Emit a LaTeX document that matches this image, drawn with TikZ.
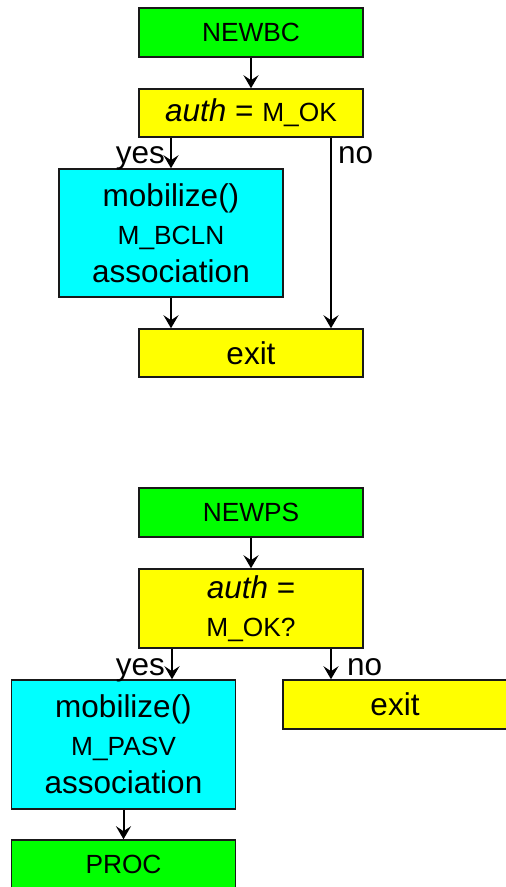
\documentclass[tikz,border=0pt]{standalone}
\usepackage{fontspec}
\setmainfont{Liberation Sans}
\usetikzlibrary{arrows.meta}
\definecolor{startgreen}{RGB}{0,255,0}
\definecolor{testyellow}{RGB}{255,255,0}
\definecolor{actcyan}{RGB}{0,255,255}
\newcommand{\bigtxt}{\fontsize{31.5}{38}\selectfont}
\newcommand{\smtxt}{\fontsize{26.3}{38}\selectfont}
\tikzstyle{arrow} = [line width=2pt,-{Stealth[length=13pt,width=15pt,inset=5pt]}]
\tikzstyle{box} = [draw=black!90,line width=1.5pt,minimum width=224pt,inner sep=0pt,align=center,font=\bigtxt]
\tikzstyle{startbox} = [box,fill=startgreen,minimum height=49pt]
\tikzstyle{testbox} = [box,fill=testyellow,minimum height=48pt]
\tikzstyle{actbox} = [box,fill=actcyan,minimum height=128pt]
\tikzstyle{answer} = [inner sep=0pt,font=\bigtxt]

\begin{document}
\begin{tikzpicture}[x=1pt,y=-1pt]   % pixel grid, y runs down

        \useasboundingbox (0,0) rectangle (506,887);

        % NEWBC sequence
        \node[startbox] (newbc) at (251,32.5) {\smtxt NEWBC};
        \node[testbox] (authA) at (251,113) {\textit{auth} = \smtxt M\_OK};
        \node[actbox] (mobA) at (171,233) {mobilize()\\ \smtxt M\_BCLN\\ \bigtxt association};
        \node[testbox] (exitA) at (251,353) {exit};
        \node[answer,anchor=base east] (yesA) at (165,163) {yes};
        \node[answer,anchor=base west] (noA) at (338,163) {no};

        \draw[arrow] (newbc) -- (authA);                                    % NEWBC -> test
        \draw[arrow] (authA.south -| mobA.north) -- (mobA.north);           % yes
        \draw[arrow] ([xshift=80pt]authA.south) -- ([xshift=80pt]exitA.north); % no
        \draw[arrow] (mobA.south) -- (mobA.south |- exitA.north);           % mobilize -> exit

        % NEWPS sequence
        \node[startbox] (newps) at (251,512.5) {\smtxt NEWPS};
        \node[testbox,minimum height=79pt] (authB) at (251,608.5) {\textit{auth} =\\ \smtxt M\_OK?};
        \node[actbox,minimum height=129pt] (mobB) at (123.5,744.5) {mobilize()\\ \smtxt M\_PASV\\ \bigtxt association};
        \node[testbox,minimum height=49pt] (exitB) at (395,704.5) {exit};
        \node[startbox] (proc) at (123.5,864.5) {\smtxt PROC};
        \node[answer,anchor=base east] (yesB) at (165,675) {yes};
        \node[answer,anchor=base west] (noB) at (347,675) {no};

        \draw[arrow] (newps) -- (authB);                                    % NEWPS -> test
        \draw[arrow] ([xshift=-79pt]authB.south) -- ([xshift=-79pt]authB.south |- mobB.north); % yes
        \draw[arrow] ([xshift=80pt]authB.south) -- ([xshift=80pt]authB.south |- exitB.north);  % no
        \draw[arrow] (mobB) -- (proc);                                      % mobilize -> PROC

\end{tikzpicture}
\end{document}
